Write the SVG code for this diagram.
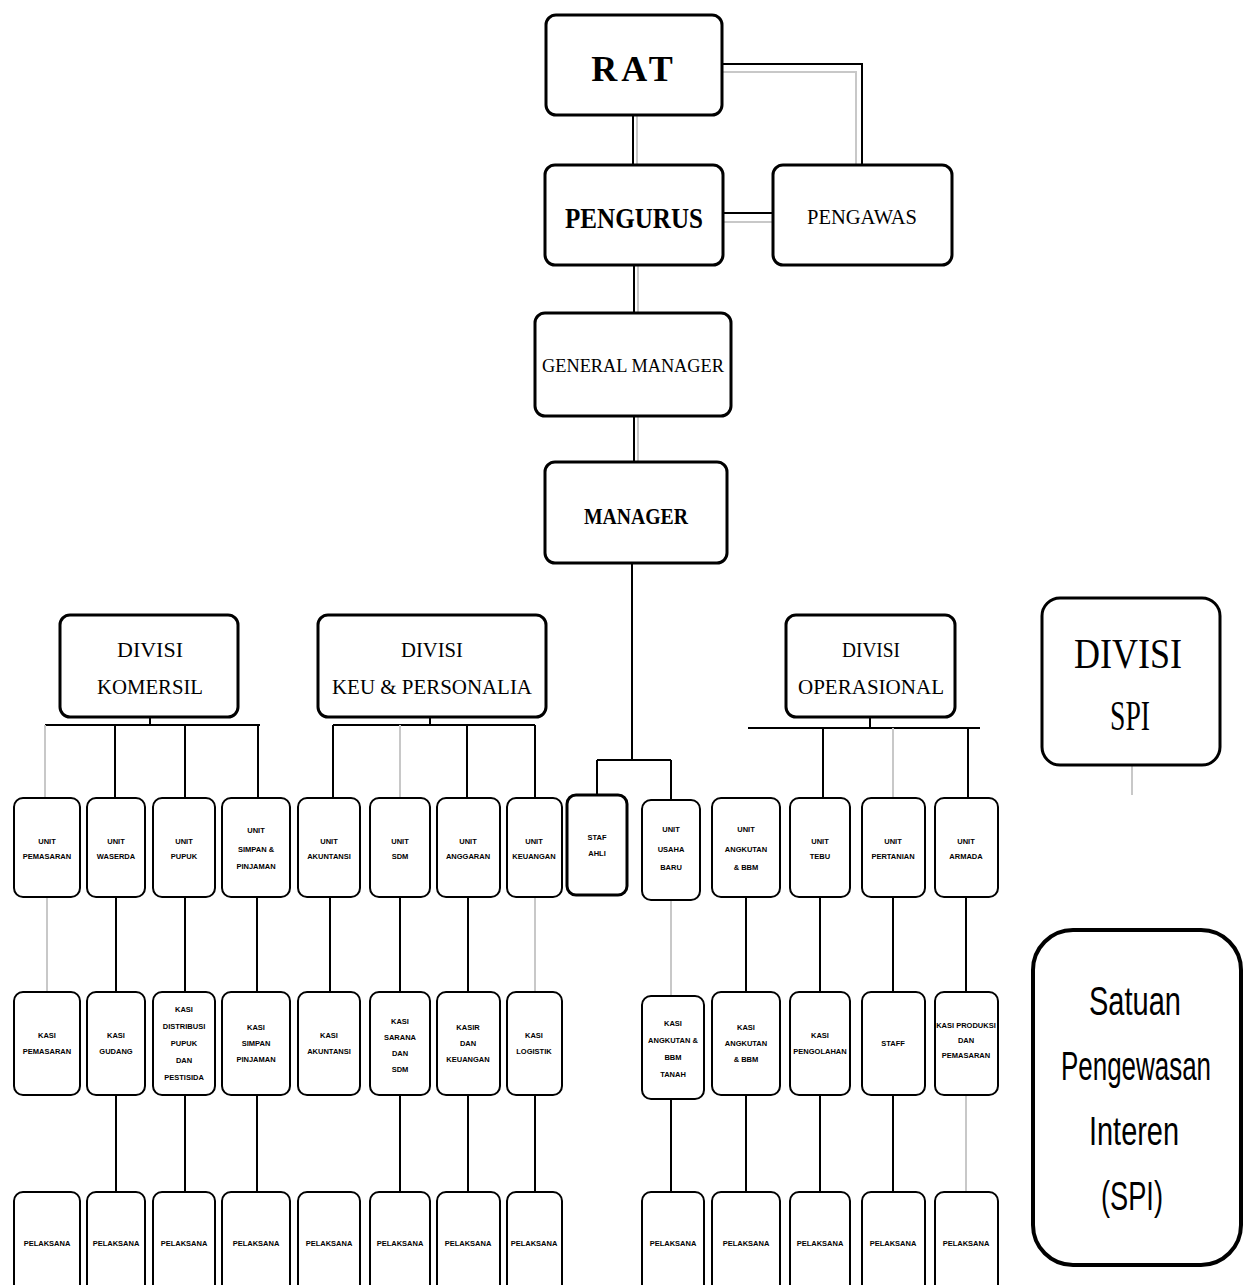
<svg xmlns="http://www.w3.org/2000/svg" width="1246" height="1285" viewBox="0 0 1246 1285">
<style>
.bx{fill:#fff;stroke:#000;stroke-width:3}
.sb{fill:#fff;stroke:#000;stroke-width:2}
.ln{stroke:#000;stroke-width:2;fill:none}
.lg{stroke:#c8c8c8;stroke-width:2;fill:none}
.tb{font-family:"Liberation Serif",serif;font-weight:bold;text-anchor:middle;fill:#000}
.tr{font-family:"Liberation Serif",serif;text-anchor:middle;fill:#000}
.ts{font-family:"Liberation Sans",sans-serif;font-weight:bold;font-size:7.5px;text-anchor:middle;fill:#000}
.tc{font-family:"Liberation Sans",sans-serif;font-size:30px;text-anchor:middle;fill:#000}
</style>
<rect width="1246" height="1285" fill="#fff"/>
<g id="connectors">
<path class="lg" d="M637 115V165" stroke-width="4"/>
<path class="ln" d="M633 115V165" stroke-width="3"/>
<path class="ln" d="M722 64H862V165" stroke-width="3"/>
<path class="lg" d="M722 72H856V165" stroke-width="4"/>
<path class="ln" d="M723 213H773" stroke-width="3"/>
<path class="lg" d="M723 222H773" stroke-width="4"/>
<path class="ln" d="M634 265V313"/>
<path class="lg" d="M638 265V313"/>
<path class="ln" d="M634 416V462"/>
<path class="lg" d="M638 416V462"/>
<path class="ln" d="M632 563V760M597 760H671M597 760V795M671 760V800"/>
<path class="ln" d="M150 717V725M45 725H260M115 725V798M185 725V798M258 725V798"/>
<path class="lg" d="M45 725V798"/>
<path class="ln" d="M430 717V725M333 725H535M333 725V798M467 725V798M535 725V798"/>
<path class="lg" d="M400 725V798"/>
<path class="ln" d="M870 717V728M823 728V798M968 728V798"/>
<path class="ln" d="M748 728H980" stroke-width="4"/>
<path class="lg" d="M893 728V798"/>
<path class="lg" d="M1132 765V795"/>
<path class="lg" d="M47 897V992M535 897V992M671 900V996"/>
<path class="ln" d="M116 897V992M185 897V992M257 897V992M330 897V992M400 897V992M468 897V992M746 897V992M820 897V992M893 897V992M966 897V992"/>
<path class="ln" d="M116 1095V1192M185 1095V1192M257 1095V1192M400 1095V1192M468 1095V1192M535 1095V1192M671 1095V1192M746 1095V1192M820 1095V1192M893 1095V1192"/>
<path class="lg" d="M966 1095V1192"/>
</g>
<g id="rat"><rect class="bx" x="546" y="15" width="176" height="100" rx="10"/><text class="tb" x="634" y="81" font-size="36" letter-spacing="4">RAT</text></g>
<g id="pengurus"><rect class="bx" x="545" y="165" width="178" height="100" rx="10"/><text class="tb" x="634" y="228" font-size="30" textLength="138" lengthAdjust="spacingAndGlyphs">PENGURUS</text></g>
<g id="pengawas"><rect class="bx" x="773" y="165" width="179" height="100" rx="10"/><text class="tr" x="862" y="224" font-size="22" textLength="110" lengthAdjust="spacingAndGlyphs">PENGAWAS</text></g>
<g id="gm"><rect class="bx" x="535" y="313" width="196" height="103" rx="10"/><text class="tr" x="633" y="372" font-size="19" textLength="182" lengthAdjust="spacingAndGlyphs">GENERAL MANAGER</text></g>
<g id="manager"><rect class="bx" x="545" y="462" width="182" height="101" rx="10"/><text class="tb" x="636" y="524" font-size="24" textLength="104" lengthAdjust="spacingAndGlyphs">MANAGER</text></g>
<g id="div-komersil"><rect class="bx" x="60" y="615" width="178" height="102" rx="10"/><text class="tr" x="150" y="657" font-size="20" textLength="66" lengthAdjust="spacingAndGlyphs">DIVISI</text><text class="tr" x="150" y="694" font-size="20" textLength="106" lengthAdjust="spacingAndGlyphs">KOMERSIL</text></g>
<g id="div-keu"><rect class="bx" x="318" y="615" width="228" height="102" rx="10"/><text class="tr" x="432" y="657" font-size="20" textLength="62" lengthAdjust="spacingAndGlyphs">DIVISI</text><text class="tr" x="432" y="694" font-size="20" textLength="200" lengthAdjust="spacingAndGlyphs">KEU &amp; PERSONALIA</text></g>
<g id="div-operasional"><rect class="bx" x="786" y="615" width="169" height="102" rx="10"/><text class="tr" x="871" y="657" font-size="20" textLength="58" lengthAdjust="spacingAndGlyphs">DIVISI</text><text class="tr" x="871" y="694" font-size="20" textLength="146" lengthAdjust="spacingAndGlyphs">OPERASIONAL</text></g>
<g id="div-spi"><rect class="bx" x="1042" y="598" width="178" height="167" rx="18"/><text class="tr" x="1128" y="668" font-size="42" textLength="108" lengthAdjust="spacingAndGlyphs">DIVISI</text><text class="tr" x="1130" y="730" font-size="42" textLength="40" lengthAdjust="spacingAndGlyphs">SPI</text></g>
<g id="satuan-spi"><rect x="1033" y="930" width="208" height="335" rx="40" fill="#fff" stroke="#000" stroke-width="4"/>
<g transform="scale(1,1.35)">
<text class="tc" x="1135" y="752" textLength="92" lengthAdjust="spacingAndGlyphs">Satuan</text>
<text class="tc" x="1136" y="800" textLength="150" lengthAdjust="spacingAndGlyphs">Pengewasan</text>
<text class="tc" x="1134" y="848" textLength="90" lengthAdjust="spacingAndGlyphs">Interen</text>
<text class="tc" x="1132" y="896" textLength="62" lengthAdjust="spacingAndGlyphs">(SPI)</text>
</g></g>
<!-- row 1 -->
<g id="r1-1"><rect class="sb" x="14" y="798" width="66" height="99" rx="9"/><text class="ts" x="47" y="844">UNIT</text><text class="ts" x="47" y="859">PEMASARAN</text></g>
<g id="r1-2"><rect class="sb" x="87" y="798" width="58" height="99" rx="9"/><text class="ts" x="116" y="844">UNIT</text><text class="ts" x="116" y="859">WASERDA</text></g>
<g id="r1-3"><rect class="sb" x="153" y="798" width="62" height="99" rx="9"/><text class="ts" x="184" y="844">UNIT</text><text class="ts" x="184" y="859">PUPUK</text></g>
<g id="r1-4"><rect class="sb" x="222" y="798" width="68" height="99" rx="9"/><text class="ts" x="256" y="833">UNIT</text><text class="ts" x="256" y="852">SIMPAN &amp;</text><text class="ts" x="256" y="869">PINJAMAN</text></g>
<g id="r1-5"><rect class="sb" x="298" y="798" width="62" height="99" rx="9"/><text class="ts" x="329" y="844">UNIT</text><text class="ts" x="329" y="859">AKUNTANSI</text></g>
<g id="r1-6"><rect class="sb" x="370" y="798" width="60" height="99" rx="9"/><text class="ts" x="400" y="844">UNIT</text><text class="ts" x="400" y="859">SDM</text></g>
<g id="r1-7"><rect class="sb" x="437" y="798" width="63" height="99" rx="9"/><text class="ts" x="468" y="844">UNIT</text><text class="ts" x="468" y="859">ANGGARAN</text></g>
<g id="r1-8"><rect class="sb" x="507" y="798" width="55" height="99" rx="9"/><text class="ts" x="534" y="844">UNIT</text><text class="ts" x="534" y="859">KEUANGAN</text></g>
<g id="r1-9"><rect class="bx" x="567" y="795" width="60" height="100" rx="9"/><text class="ts" x="597" y="840">STAF</text><text class="ts" x="597" y="856">AHLI</text></g>
<g id="r1-10"><rect class="sb" x="642" y="800" width="58" height="100" rx="9"/><text class="ts" x="671" y="832">UNIT</text><text class="ts" x="671" y="852">USAHA</text><text class="ts" x="671" y="870">BARU</text></g>
<g id="r1-11"><rect class="sb" x="712" y="798" width="68" height="99" rx="9"/><text class="ts" x="746" y="832">UNIT</text><text class="ts" x="746" y="852">ANGKUTAN</text><text class="ts" x="746" y="870">&amp; BBM</text></g>
<g id="r1-12"><rect class="sb" x="790" y="798" width="60" height="99" rx="9"/><text class="ts" x="820" y="844">UNIT</text><text class="ts" x="820" y="859">TEBU</text></g>
<g id="r1-13"><rect class="sb" x="862" y="798" width="63" height="99" rx="9"/><text class="ts" x="893" y="844">UNIT</text><text class="ts" x="893" y="859">PERTANIAN</text></g>
<g id="r1-14"><rect class="sb" x="935" y="798" width="63" height="99" rx="9"/><text class="ts" x="966" y="844">UNIT</text><text class="ts" x="966" y="859">ARMADA</text></g>
<!-- row 2 -->
<g id="r2-1"><rect class="sb" x="14" y="992" width="66" height="103" rx="9"/><text class="ts" x="47" y="1038">KASI</text><text class="ts" x="47" y="1054">PEMASARAN</text></g>
<g id="r2-2"><rect class="sb" x="87" y="992" width="58" height="103" rx="9"/><text class="ts" x="116" y="1038">KASI</text><text class="ts" x="116" y="1054">GUDANG</text></g>
<g id="r2-3"><rect class="sb" x="153" y="992" width="62" height="103" rx="9"/><text class="ts" x="184" y="1012">KASI</text><text class="ts" x="184" y="1029">DISTRIBUSI</text><text class="ts" x="184" y="1046">PUPUK</text><text class="ts" x="184" y="1063">DAN</text><text class="ts" x="184" y="1080">PESTISIDA</text></g>
<g id="r2-4"><rect class="sb" x="222" y="992" width="68" height="103" rx="9"/><text class="ts" x="256" y="1030">KASI</text><text class="ts" x="256" y="1046">SIMPAN</text><text class="ts" x="256" y="1062">PINJAMAN</text></g>
<g id="r2-5"><rect class="sb" x="298" y="992" width="62" height="103" rx="9"/><text class="ts" x="329" y="1038">KASI</text><text class="ts" x="329" y="1054">AKUNTANSI</text></g>
<g id="r2-6"><rect class="sb" x="370" y="992" width="60" height="103" rx="9"/><text class="ts" x="400" y="1024">KASI</text><text class="ts" x="400" y="1040">SARANA</text><text class="ts" x="400" y="1056">DAN</text><text class="ts" x="400" y="1072">SDM</text></g>
<g id="r2-7"><rect class="sb" x="437" y="992" width="63" height="103" rx="9"/><text class="ts" x="468" y="1030">KASIR</text><text class="ts" x="468" y="1046">DAN</text><text class="ts" x="468" y="1062">KEUANGAN</text></g>
<g id="r2-8"><rect class="sb" x="507" y="992" width="55" height="103" rx="9"/><text class="ts" x="534" y="1038">KASI</text><text class="ts" x="534" y="1054">LOGISTIK</text></g>
<g id="r2-9"><rect class="sb" x="642" y="996" width="62" height="103" rx="9"/><text class="ts" x="673" y="1026">KASI</text><text class="ts" x="673" y="1043">ANGKUTAN &amp;</text><text class="ts" x="673" y="1060">BBM</text><text class="ts" x="673" y="1077">TANAH</text></g>
<g id="r2-10"><rect class="sb" x="712" y="992" width="68" height="103" rx="9"/><text class="ts" x="746" y="1030">KASI</text><text class="ts" x="746" y="1046">ANGKUTAN</text><text class="ts" x="746" y="1062">&amp; BBM</text></g>
<g id="r2-11"><rect class="sb" x="790" y="992" width="60" height="103" rx="9"/><text class="ts" x="820" y="1038">KASI</text><text class="ts" x="820" y="1054">PENGOLAHAN</text></g>
<g id="r2-12"><rect class="sb" x="862" y="992" width="63" height="103" rx="9"/><text class="ts" x="893" y="1046">STAFF</text></g>
<g id="r2-13"><rect class="sb" x="935" y="992" width="63" height="103" rx="9"/><text class="ts" x="966" y="1028">KASI PRODUKSI</text><text class="ts" x="966" y="1043">DAN</text><text class="ts" x="966" y="1058">PEMASARAN</text></g>
<!-- row 3 -->
<g id="r3-1"><rect class="sb" x="14" y="1192" width="66" height="110" rx="9"/><text class="ts" x="47" y="1246">PELAKSANA</text></g>
<g id="r3-2"><rect class="sb" x="87" y="1192" width="58" height="110" rx="9"/><text class="ts" x="116" y="1246">PELAKSANA</text></g>
<g id="r3-3"><rect class="sb" x="153" y="1192" width="62" height="110" rx="9"/><text class="ts" x="184" y="1246">PELAKSANA</text></g>
<g id="r3-4"><rect class="sb" x="222" y="1192" width="68" height="110" rx="9"/><text class="ts" x="256" y="1246">PELAKSANA</text></g>
<g id="r3-5"><rect class="sb" x="298" y="1192" width="62" height="110" rx="9"/><text class="ts" x="329" y="1246">PELAKSANA</text></g>
<g id="r3-6"><rect class="sb" x="370" y="1192" width="60" height="110" rx="9"/><text class="ts" x="400" y="1246">PELAKSANA</text></g>
<g id="r3-7"><rect class="sb" x="437" y="1192" width="63" height="110" rx="9"/><text class="ts" x="468" y="1246">PELAKSANA</text></g>
<g id="r3-8"><rect class="sb" x="507" y="1192" width="55" height="110" rx="9"/><text class="ts" x="534" y="1246">PELAKSANA</text></g>
<g id="r3-9"><rect class="sb" x="642" y="1192" width="62" height="110" rx="9"/><text class="ts" x="673" y="1246">PELAKSANA</text></g>
<g id="r3-10"><rect class="sb" x="712" y="1192" width="68" height="110" rx="9"/><text class="ts" x="746" y="1246">PELAKSANA</text></g>
<g id="r3-11"><rect class="sb" x="790" y="1192" width="60" height="110" rx="9"/><text class="ts" x="820" y="1246">PELAKSANA</text></g>
<g id="r3-12"><rect class="sb" x="862" y="1192" width="63" height="110" rx="9"/><text class="ts" x="893" y="1246">PELAKSANA</text></g>
<g id="r3-13"><rect class="sb" x="935" y="1192" width="63" height="110" rx="9"/><text class="ts" x="966" y="1246">PELAKSANA</text></g>
</svg>
